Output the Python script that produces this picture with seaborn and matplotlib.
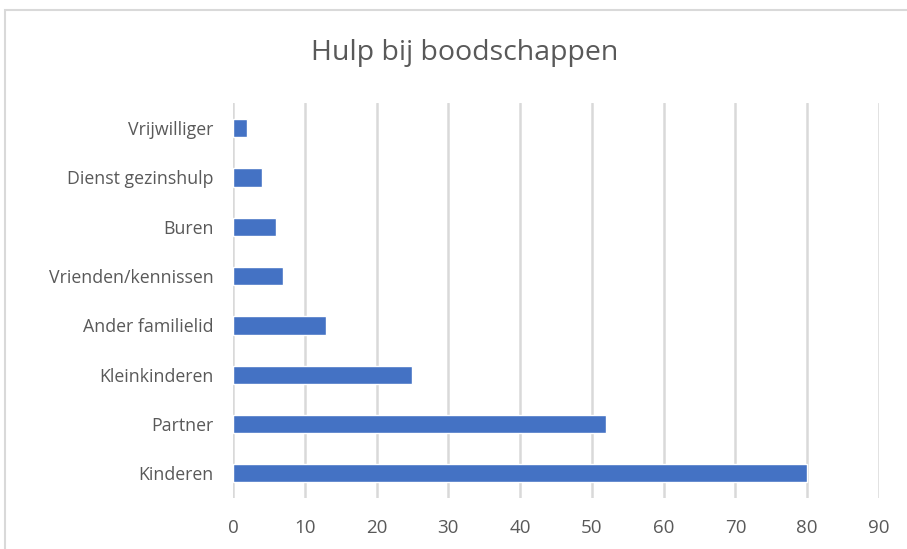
import matplotlib.pyplot as plt
import matplotlib.patches as mpatches
import pandas as pd
import seaborn as sns

categories = ["Vrijwilliger", "Dienst gezinshulp", "Buren", "Vrienden/kennissen",
              "Ander familielid", "Kleinkinderen", "Partner", "Kinderen"]
values = [2, 4, 6, 7, 13, 25, 52, 80]
xticks = [0, 10, 20, 30, 40, 50, 60, 70, 80, 90]

df = pd.DataFrame({"hulp": categories, "aantal": values})

sns.set_style("white")
plt.rcParams["font.family"] = ["Open Sans", "DejaVu Sans"]
text_color = "#595959"

fig = plt.figure(figsize=(9.07, 5.49), dpi=100)
ax = fig.add_axes([0.2569, 0.0929, 0.9691 - 0.2569, 0.8115 - 0.0929])

sns.barplot(data=df, x="aantal", y="hulp", orient="h", color="#4472C4",
            saturation=1, width=0.37, ax=ax)

ax.set_xlim(0, 90)
ax.set_xticks(xticks)
ax.set_ylim(len(categories) - 0.5, -0.5)
ax.grid(axis="x", color="#D9D9D9", linewidth=1.8)
ax.set_axisbelow(True)
for s in ax.spines.values():
    s.set_visible(False)
ax.tick_params(axis="y", length=0, labelsize=12.8, colors=text_color, pad=14)
ax.tick_params(axis="x", length=0, labelsize=13.5, colors=text_color, pad=15)
ax.set_xlabel("")
ax.set_ylabel("")

fig.text(0.512, 0.903, "Hulp bij boodschappen", ha="center", va="center",
         fontsize=20.5, color=text_color)

# chart border like the spreadsheet frame
fig.patches.append(mpatches.Rectangle((5 / 907, -0.05), 1.1, 1 - 10 / 549 + 0.05,
                                      transform=fig.transFigure, fill=False,
                                      edgecolor="#D9D9D9", linewidth=1.5))

plt.savefig("out.png", dpi=100)
